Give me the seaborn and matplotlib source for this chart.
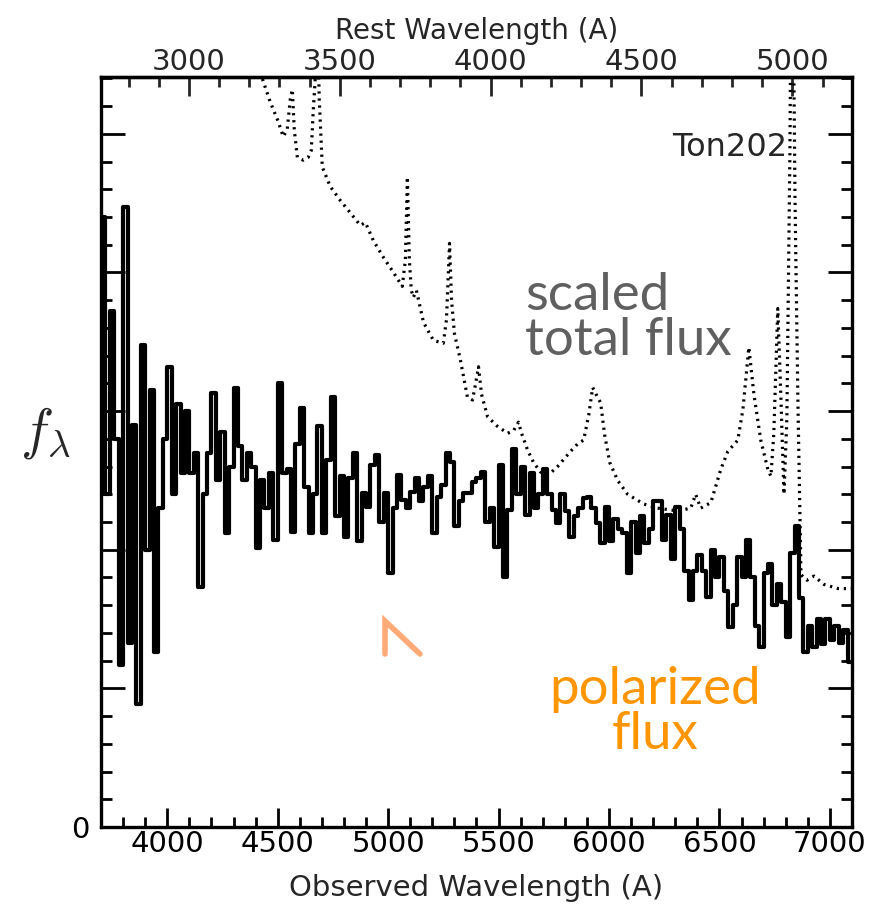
import numpy as np
import pandas as pd
import matplotlib
matplotlib.use('Agg')
import matplotlib.pyplot as plt
import seaborn as sns
from matplotlib.ticker import MultipleLocator, FuncFormatter
from matplotlib.lines import Line2D

# ---------------- data ----------------
redshift = 0.366
pol_start = 3700   # first bin edge (observed A)
pol_step = 20      # bin width (A)
pol_flux = [
    4.40, 2.40, 3.72, 2.80, 1.17, 4.47, 1.33, 2.90, 0.89, 3.48,
    2.00, 3.15, 1.26, 2.30, 2.80, 3.32, 2.40, 3.05, 2.55, 3.00,
    2.55, 2.70, 1.73, 2.40, 2.70, 3.13, 2.50, 2.85, 2.12, 2.60,
    3.17, 2.75, 2.50, 2.70, 2.60, 2.01, 2.50, 2.30, 2.55, 2.07,
    3.20, 2.55, 2.58, 2.13, 2.76, 3.02, 2.45, 2.12, 2.40, 2.89,
    2.12, 2.65, 3.10, 2.24, 2.53, 2.09, 2.52, 2.70, 2.06, 2.41,
    2.31, 2.61, 2.68, 2.20, 2.41, 1.83, 2.30, 2.54, 2.36, 2.30,
    2.42, 2.52, 2.35, 2.45, 2.53, 2.12, 2.38, 2.47, 2.70, 2.63,
    2.17, 2.35, 2.41, 2.41, 2.49, 2.52, 2.56, 2.20, 2.30, 2.02,
    2.61, 1.80, 2.29, 2.73, 2.40, 2.60, 2.25, 2.55, 2.30, 2.40,
    2.58, 2.40, 2.29, 2.19, 2.40, 2.28, 2.09, 2.24, 2.30, 2.37,
    2.38, 2.30, 2.19, 2.05, 2.31, 2.06, 2.22, 2.15, 2.12, 1.83,
    2.20, 1.98, 2.24, 2.05, 2.15, 2.35, 2.35, 2.07, 2.25, 1.93,
    2.31, 2.15, 1.85, 1.64, 1.85, 1.96, 1.85, 1.66, 2.00, 1.80,
    1.95, 1.70, 1.44, 1.60, 1.95, 1.80, 2.07, 1.80, 1.45, 1.30,
    1.83, 1.90, 1.60, 1.75, 1.62, 1.37, 1.98, 2.17, 1.65, 1.26,
    1.45, 1.30, 1.50, 1.32, 1.50, 1.35, 1.45, 1.33, 1.42, 1.19,
]

tot_wave = [
    4398, 4430, 4466, 4502, 4525, 4543, 4557, 4566, 4575, 4589,
    4616, 4638, 4652, 4661, 4670, 4679, 4688, 4702, 4738, 4783,
    4829, 4874, 4897, 4933, 4978, 5024, 5064, 5078, 5087, 5096,
    5105, 5114, 5128, 5160, 5205, 5250, 5264, 5278, 5287, 5300,
    5327, 5359, 5382, 5395, 5409, 5423, 5450, 5495, 5541, 5568,
    5590, 5604, 5631, 5658, 5690, 5726, 5767, 5826, 5862, 5885,
    5908, 5926, 5948, 5962, 5980, 6003, 6039, 6084, 6157, 6220,
    6311, 6370, 6392, 6415, 6461, 6506, 6538, 6583, 6606, 6633,
    6656, 6687, 6719, 6733, 6746, 6764, 6778, 6792, 6805, 6819,
    6828, 6842, 6855, 6869, 6896, 6928, 6973, 7036, 7104,
]
tot_flux = [
    5.90, 5.40, 5.23, 5.09, 4.98, 5.03, 5.25, 5.32, 5.03, 4.83,
    4.81, 4.83, 4.88, 5.17, 5.40, 5.90, 5.25, 4.76, 4.62, 4.52,
    4.43, 4.34, 4.36, 4.23, 4.11, 4.00, 3.90, 4.09, 4.69, 4.09,
    3.87, 3.82, 3.87, 3.64, 3.51, 3.49, 3.66, 4.21, 3.80, 3.56,
    3.37, 3.10, 3.08, 3.19, 3.32, 3.12, 2.96, 2.89, 2.84, 2.86,
    2.92, 2.84, 2.72, 2.63, 2.56, 2.54, 2.60, 2.71, 2.77, 2.79,
    2.97, 3.17, 3.10, 3.06, 2.83, 2.63, 2.50, 2.40, 2.33, 2.30,
    2.28, 2.30, 2.40, 2.30, 2.34, 2.58, 2.71, 2.79, 3.01, 3.46,
    3.12, 2.79, 2.58, 2.53, 2.84, 3.74, 3.10, 2.40, 2.94, 4.88,
    7.00, 4.52, 3.08, 1.82, 1.78, 1.81, 1.75, 1.72, 1.72,
]

x_major = [4000, 4500, 5000, 5500, 6000, 6500, 7000]
rest_major = [3000, 3500, 4000, 4500, 5000]
y_major = [0, 1, 2, 3, 4, 5]

# ---------------- style ----------------
sns.set_style('ticks')
plt.rcParams['font.family'] = ['DejaVu Sans']
plt.rcParams['mathtext.fontset'] = 'cm'

fig = plt.figure(figsize=(8.7, 9.17), dpi=100)
ax = fig.add_axes([101 / 870, 90 / 917, 751 / 870, 750 / 917])

pol_wave = pol_start + pol_step * np.arange(len(pol_flux) + 1)
df_pol = pd.DataFrame({'wave': pol_wave, 'flux': pol_flux + [pol_flux[-1]]})
df_tot = pd.DataFrame({'wave': tot_wave, 'flux': tot_flux})

sns.lineplot(data=df_tot, x='wave', y='flux', color='black', lw=2.3,
             linestyle=(0, (0.7, 1.5)), estimator=None, sort=False, ax=ax)
sns.lineplot(data=df_pol, x='wave', y='flux', drawstyle='steps-post',
             color='black', lw=3.0, estimator=None, sort=False, ax=ax)

ax.set_xlim(3700, 7100)
ax.set_ylim(0, 5.41)

for s in ax.spines.values():
    s.set_linewidth(2.4)
    s.set_color('black')

ax.set_xticks(x_major)
ax.xaxis.set_minor_locator(MultipleLocator(100))
ax.set_yticks(y_major)
ax.yaxis.set_minor_locator(MultipleLocator(0.2))
ax.yaxis.set_major_formatter(FuncFormatter(lambda v, p: '0' if v == 0 else ''))

ax.tick_params(axis='both', which='both', direction='in', top=False,
               right=True, width=2.0, colors='black', labelsize=21)
ax.tick_params(axis='x', which='major', length=14, pad=2)
ax.tick_params(axis='x', which='minor', length=7)
ax.tick_params(axis='y', which='major', length=17, pad=8)
ax.tick_params(axis='y', which='minor', length=8)

ax.set_xlabel('Observed Wavelength (A)', fontsize=21, labelpad=12)
ax.set_ylabel('')

sec = ax.secondary_xaxis('top', functions=(lambda w: w / (1 + redshift),
                                           lambda w: w * (1 + redshift)))
sec.set_xticks(rest_major)
sec.xaxis.set_minor_locator(MultipleLocator(100))
sec.tick_params(axis='x', which='both', direction='in', width=2.0,
                labelsize=21, pad=1)
sec.tick_params(axis='x', which='major', length=14)
sec.tick_params(axis='x', which='minor', length=7)
sec.spines['top'].set_linewidth(2.4)
sec.set_xlabel('Rest Wavelength (A)', fontsize=20, labelpad=6)

# ---------------- annotations ----------------
def fx(px):
    return (px - 101) / 751

def fy(py):
    return (827 - py) / 750

ax.text(fx(787), fy(148), 'Ton202', fontsize=23, ha='right', va='center',
        transform=ax.transAxes)
ax.text(fx(525), fy(318), 'scaled\ntotal flux', fontsize=38, color='#606060',
        ha='left', va='center', linespacing=0.95, family=['Lato', 'DejaVu Sans'],
        transform=ax.transAxes)
ax.text(fx(655), fy(712), 'polarized\nflux', fontsize=38, color='#FF9500',
        ha='center', va='center', linespacing=0.95, family=['Lato', 'DejaVu Sans'],
        transform=ax.transAxes)
ax.add_line(Line2D([fx(385), fx(385), fx(420)], [fy(654), fy(621), fy(654)],
                   transform=ax.transAxes, color='#FFAA77', lw=4.0,
                   solid_joinstyle='miter'))

fig.text(45 / 870, 1 - 433 / 917, r'$f_\lambda$', fontsize=40,
         ha='center', va='center')

fig.savefig('out.png', dpi=100)
